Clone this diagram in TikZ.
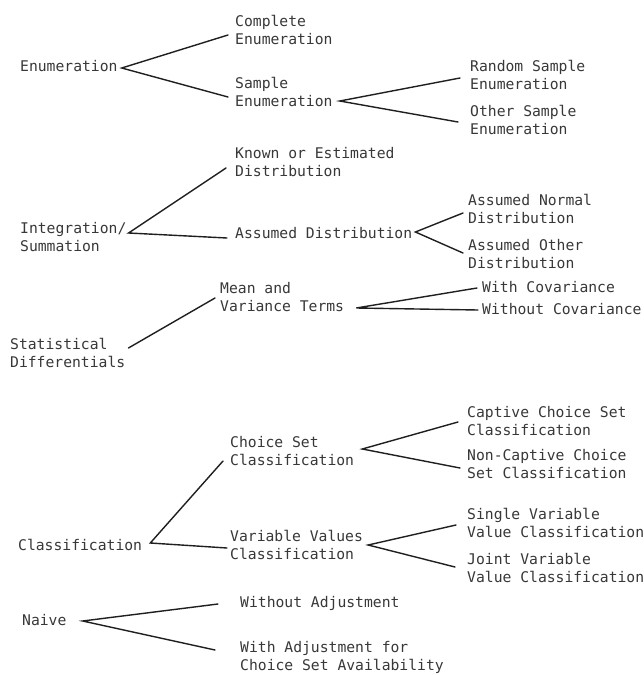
\documentclass[tikz,border=0pt]{standalone}
\usepackage{fontspec}
\setmonofont{DejaVu Sans Mono}
\usetikzlibrary{calc}
\tikzset{
  lbl/.style={anchor=base west, inner sep=0pt, align=left,
    font=\ttfamily\fontsize{14.7}{18}\selectfont, text=black!78},
  conn/.style={draw=black!88, line width=1.4pt, line cap=round}
}
\begin{document}
\begin{tikzpicture}[x=1pt,y=-1pt]
\useasboundingbox[fill=white] (0,0) rectangle (644,675);

% (multi-line nodes: base = baseline of their last line)
% Enumeration
\node[lbl] (root) at (20,71) {Enumeration};
\node[lbl] (c1) at (235,44) {Complete\\Enumeration};
\node[lbl] (se) at (235,106) {Sample\\Enumeration};
\node[lbl] (rs) at (470,89) {Random Sample\\Enumeration};
\node[lbl] (os) at (470,134) {Other Sample\\Enumeration};

% Integration
\node[lbl] (ke) at (235,176) {Known or Estimated\\Distribution};
\node[lbl] (int) at (20,251) {Integration/\\Summation};
\node[lbl] (ad) at (235,238) {Assumed Distribution};
\node[lbl] (an) at (468,223) {Assumed Normal\\Distribution};
\node[lbl] (ao) at (468,268) {Assumed Other\\Distribution};

% Statistical differentials
\node[lbl] (mv) at (220,311) {Mean and\\Variance Terms};
\node[lbl] (wc) at (482,292) {With Covariance};
\node[lbl] (woc) at (482,314) {Without Covariance};
\node[lbl] (sd) at (10,367) {Statistical\\Differentials};

% Classification
\node[lbl] (cs) at (230,465) {Choice Set\\Classification};
\node[lbl] (ccs) at (467,435) {Captive Choice Set\\Classification};
\node[lbl] (ncs) at (467,478) {Non-Captive Choice\\Set Classification};
\node[lbl] (cl) at (18,550) {Classification};
\node[lbl] (vv) at (230,559) {Variable Values\\Classification};
\node[lbl] (sv) at (467,537) {Single Variable\\Value Classification};
\node[lbl] (jv) at (467,582) {Joint Variable\\Value Classification};

% Naive
\node[lbl] (nv) at (22,625) {Naive};
\node[lbl] (wa) at (240,607) {Without Adjustment};
\node[lbl] (wfa) at (240,670) {With Adjustment for\\Choice Set Availability};

% junctions
\coordinate (root-j) at ($(root.base east)+(4,-3)$);
\coordinate (se-j) at ($(se.base east)+(7,-5)$);
\coordinate (int-j) at ($(int.base east)+(2,-18)$);
\coordinate (ad-j) at ($(ad.base east)+(3,-6)$);
\coordinate (sd-j) at ($(sd.base east)+(3,-19)$);
\coordinate (mv-j) at ($(mv.base east)+(12,-3)$);
\coordinate (cl-j) at ($(cl.base east)+(8,-7)$);
\coordinate (cs-j) at ($(cs.base east)+(8,-16)$);
\coordinate (vv-j) at ($(vv.base east)+(5,-14)$);
\coordinate (nv-j) at ($(nv.base east)+(16,-4)$);

% connectors
\draw[conn] ($(c1.base west)+(-7,-9)$) -- (root-j) -- ($(se.base west)+(-7,-9)$);
\draw[conn] ($(rs.base west)+(-10,-11)$) -- (se-j) -- ($(os.base west)+(-12,-12)$);
\draw[conn] ($(ke.base west)+(-9,-8)$) -- (int-j) -- ($(ad.base west)+(-8,0)$);
\draw[conn] ($(an.base west)+(-5,-10)$) -- (ad-j) -- ($(ao.base west)+(-5,-15)$);
\draw[conn] (sd-j) -- ($(mv.base west)+(-5,-13)$);
\draw[conn] ($(wc.base west)+(-5,-4)$) -- (mv-j) -- ($(woc.base west)+(-4,-4)$);
\draw[conn] ($(cs.base west)+(-7,-4)$) -- (cl-j) -- ($(vv.base west)+(-3,-11)$);
\draw[conn] ($(ccs.base west)+(-9,-13)$) -- (cs-j) -- ($(ncs.base west)+(-7,-10)$);
\draw[conn] ($(sv.base west)+(-11,-12)$) -- (vv-j) -- ($(jv.base west)+(-12,-15)$);
\draw[conn] ($(wa.base west)+(-22,-3)$) -- (nv-j) -- ($(wfa.base west)+(-25,-20)$);
\end{tikzpicture}
\end{document}
